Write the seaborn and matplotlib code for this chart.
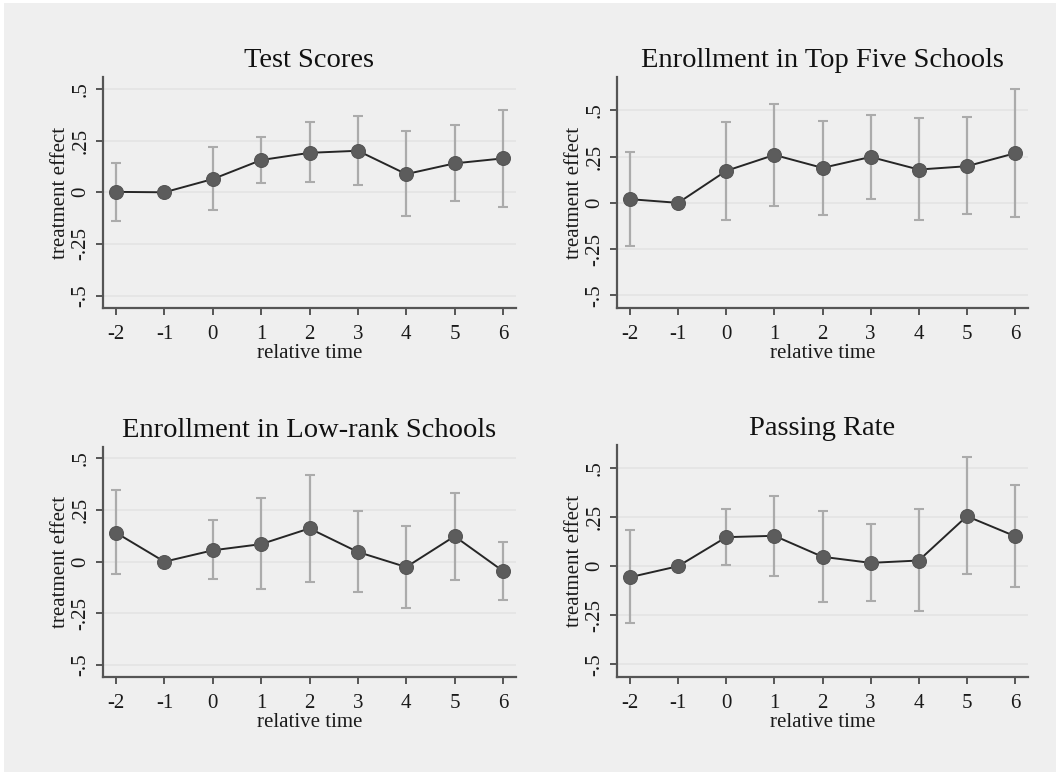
import numpy as np
import matplotlib
matplotlib.use("Agg")
import matplotlib.pyplot as plt
from matplotlib.patches import Rectangle
import pandas as pd
import seaborn as sns

# Event-study estimates (point estimate with 95% CI); -1 is the reference period
rel_time = [-2, -1, 0, 1, 2, 3, 4, 5, 6]

test_scores = [0.002, 0.000, 0.064, 0.156, 0.191, 0.201, 0.088, 0.140, 0.164]
test_lo = [-0.137, np.nan, -0.087, 0.047, 0.050, 0.034, -0.117, -0.040, -0.071]
test_hi = [0.140, np.nan, 0.220, 0.268, 0.338, 0.368, 0.296, 0.326, 0.399]

top_five = [0.020, 0.000, 0.173, 0.259, 0.189, 0.248, 0.180, 0.198, 0.268]
top_five_lo = [-0.234, np.nan, -0.094, -0.018, -0.065, 0.023, -0.095, -0.061, -0.077]
top_five_hi = [0.277, np.nan, 0.439, 0.534, 0.442, 0.477, 0.457, 0.466, 0.617]

low_rank = [0.140, 0.000, 0.055, 0.085, 0.161, 0.047, -0.026, 0.123, -0.045]
low_rank_lo = [-0.061, np.nan, -0.082, -0.131, -0.098, -0.148, -0.223, -0.087, -0.187]
low_rank_hi = [0.348, np.nan, 0.203, 0.306, 0.421, 0.244, 0.171, 0.332, 0.095]

passing = [-0.056, 0.000, 0.148, 0.155, 0.048, 0.017, 0.029, 0.255, 0.153]
passing_lo = [-0.290, np.nan, 0.007, -0.048, -0.183, -0.177, -0.231, -0.042, -0.105]
passing_hi = [0.187, np.nan, 0.294, 0.358, 0.280, 0.214, 0.290, 0.555, 0.416]

titles = ["Test Scores", "Enrollment in Top Five Schools",
          "Enrollment in Low-rank Schools", "Passing Rate"]
y_ticks = [-0.5, -0.25, 0, 0.25, 0.5]
y_tick_labels = ["-.5", "-.25", "0", ".25", ".5"]

panels = [
    (titles[0], test_scores, test_lo, test_hi, (-0.56, 0.558)),
    (titles[1], top_five, top_five_lo, top_five_hi, (-0.568, 0.68)),
    (titles[2], low_rank, low_rank_lo, low_rank_hi, (-0.558, 0.555)),
    (titles[3], passing, passing_lo, passing_hi, (-0.565, 0.618)),
]

BG = "#efefef"
sns.set_theme(style="white", rc={"axes.facecolor": BG, "figure.facecolor": "white"})
plt.rcParams["font.family"] = ["Liberation Serif", "DejaVu Serif"]

W, H = 1058, 774
fig = plt.figure(figsize=(W / 100, H / 100), dpi=100)
fig.patches.append(Rectangle((4 / W, 2 / H), (W - 6) / W, (H - 5) / H,
                             transform=fig.transFigure, facecolor=BG,
                             edgecolor="none", zorder=-10))

# axes boxes in pixels: left, top, right, bottom
boxes = [(103, 77, 516, 308), (617, 77, 1028, 308),
         (103, 447, 516, 677), (617, 445, 1028, 677)]

for (title, est, lo, hi, ylim), (l, t, r, b) in zip(panels, boxes):
    ax = fig.add_axes([l / W, 1 - b / H, (r - l) / W, (b - t) / H])
    df = pd.DataFrame({"time": rel_time, "est": est, "lo": lo, "hi": hi})

    for yv in y_ticks:
        ax.axhline(yv, color="#e4e4e4", lw=1.2, zorder=0)

    ci = df.dropna()
    ax.errorbar(ci["time"], ci["est"],
                yerr=[ci["est"] - ci["lo"], ci["hi"] - ci["est"]],
                fmt="none", ecolor="#ababab", elinewidth=1.6, capsize=3.8,
                capthick=1.5, zorder=2)

    sns.lineplot(data=df, x="time", y="est", ax=ax, color="#262626", lw=1.4,
                 marker="o", markersize=10, markerfacecolor="#5c5c5c",
                 markeredgecolor="#555555", markeredgewidth=0.8, zorder=3)

    ax.set_xlim(-2.27, 6.27)
    ax.set_ylim(*ylim)
    ax.set_xticks(rel_time)
    ax.set_xticklabels([str(v) for v in rel_time])
    ax.set_yticks(y_ticks)
    ax.set_yticklabels(y_tick_labels, rotation=90, va="center")

    ax.set_title(title, fontsize=20.5, color="#111111", pad=7)
    ax.set_xlabel("relative time", fontsize=15, color="#1a1a1a", labelpad=0)
    ax.set_ylabel("treatment effect", fontsize=15, color="#1a1a1a", labelpad=1)

    for side in ("top", "right"):
        ax.spines[side].set_visible(False)
    for side in ("left", "bottom"):
        ax.spines[side].set_color("#555555")
        ax.spines[side].set_linewidth(1.6)
    ax.tick_params(axis="both", which="major", direction="out", length=5,
                   width=1.4, color="#555555", labelsize=15,
                   labelcolor="#1a1a1a", left=True, bottom=True)
    ax.tick_params(axis="x", pad=7)
    ax.tick_params(axis="y", pad=4)
    ax.grid(False)

fig.savefig("out.png", dpi=100, facecolor="white")
